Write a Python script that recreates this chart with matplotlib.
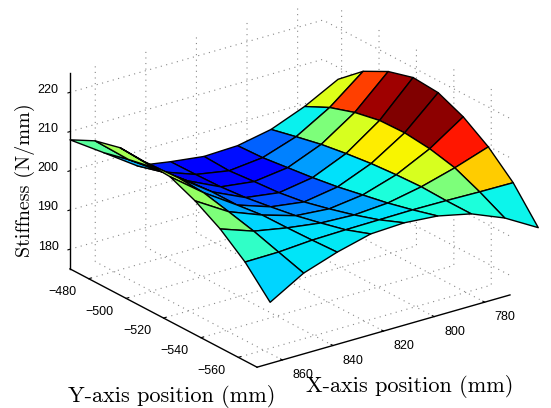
import numpy as np
import matplotlib
matplotlib.use("Agg")
import matplotlib.pyplot as plt
from matplotlib import cm
from matplotlib.transforms import ScaledTranslation
from mpl_toolkits.mplot3d import proj3d

x_pos = [870, 856.75, 843.5, 830.25, 817, 803.75, 790.5, 777.25, 764]
y_pos = [-577, -563.6, -550.3, -536.9, -523.5, -510.1, -496.8, -483.4, -470]
stiffness = [
    [193.3, 200.2, 205.3, 209.1, 211.9, 212.3, 212.6, 211.0, 207.9],
    [198.3, 200.3, 202.3, 203.9, 205.4, 205.8, 205.1, 203.8, 202.2],
    [201.2, 200.9, 200.7, 200.6, 199.8, 199.8, 199.3, 198.2, 196.4],
    [203.4, 201.1, 199.5, 198.0, 196.9, 195.9, 195.3, 195.1, 195.0],
    [203.8, 201.2, 199.1, 197.3, 195.7, 194.7, 194.2, 193.6, 193.9],
    [203.1, 201.3, 199.7, 198.4, 197.1, 196.1, 195.3, 194.5, 194.2],
    [201.2, 201.2, 201.4, 201.1, 200.6, 199.8, 198.8, 197.4, 195.9],
    [197.7, 201.0, 203.8, 205.3, 206.0, 205.8, 204.5, 202.4, 199.3],
    [192.8, 200.9, 206.7, 211.0, 213.8, 214.3, 212.5, 209.2, 203.8],
]
cell_colour = [
    [.335, .41, .50, .53, .57, .61, .55, .46],
    [.35, .345, .335, .29, .26, .20, .28, .30],
    [.355, .345, .31, .28, .22, .17, .10, .15],
    [.36, .335, .29, .26, .20, .15, .11, .12],
    [.365, .345, .29, .26, .21, .16, .125, .14],
    [.385, .385, .385, .365, .345, .28, .25, .22],
    [.385, .50, .61, .65, .66, .61, .50, .36],
    [.365, .695, .885, .985, 1.0, .97, .84, .62],
]
x_ticks = [780, 800, 820, 840, 860]
y_ticks = [-560, -540, -520, -500, -480]
z_ticks = [180, 190, 200, 210, 220]
x_limits = (870, 770)
y_limits = (-570, -470)
z_limits = (175, 225)

W, H = 551, 408
plt.rcParams['font.family'] = 'Liberation Sans'
plt.rcParams['font.size'] = 9
fig = plt.figure(figsize=(W / 100, H / 100), dpi=100)
ax = fig.add_axes([0.1, 0.1, 0.8, 0.8], projection='3d', proj_type='ortho')
ax.view_init(elev=22.8, azim=-126.4)
ax.set_box_aspect((314, 315, 212.6))
ax.set_xlim(*x_limits, view_margin=0)
ax.set_ylim(*y_limits, view_margin=0)
ax.set_zlim(*z_limits, view_margin=0)

X, Y = np.meshgrid(x_pos, y_pos, indexing='ij')
Z = np.array(stiffness)
faces = cm.jet(np.array(cell_colour))
surf = ax.plot_surface(X, Y, Z, rstride=1, cstride=1, facecolors=faces, shade=False,
                       edgecolor='black', linewidth=1.0, antialiased=True)
surf.set_clip_on(False)

ax.set_xticks(x_ticks)
ax.set_yticks(y_ticks)
ax.set_zticks(z_ticks)
ax.tick_params(axis='both', pad=3, labelsize=9)
ax.tick_params(axis='z', pad=3, labelsize=9)
for a in (ax.xaxis, ax.yaxis, ax.zaxis):
    a.set_pane_color((1, 1, 1, 0))
    a.pane.set_edgecolor((1, 1, 1, 0))
    a.line.set_color('black')
    a.line.set_linewidth(1.0)
    a._axinfo['grid'].update(color='#888888', linewidth=0.8, linestyle=(0, (1, 4)))
    a._axinfo['tick'].update(inward_factor=0.0, outward_factor=0.12)
ax.zaxis._axinfo['tick'].update(inward_factor=0.1, outward_factor=0.0)


# nudge tick labels (pixels: right, up) onto the reference positions;
# Axis3D resets transforms in get_major_ticks, so wrap it
def nudge(axis, dx, dy):
    original = axis.get_major_ticks
    offset = ax.transData + ScaledTranslation(dx / 100, dy / 100, fig.dpi_scale_trans)

    def patched(numticks=None):
        ticks = original(numticks)
        for t in ticks:
            t.label1.set_transform(offset)
        return ticks
    axis.get_major_ticks = patched


nudge(ax.xaxis, 9, 9)
nudge(ax.yaxis, -11, 9)
nudge(ax.zaxis, 5, 7)

# fit the box to the reference corners (pixel coords from top-left)
targets = {(870, -570, 175): (257, 367), (870, -470, 175): (70, 269), (770, -570, 175): (510, 295)}
for _ in range(3):
    fig.canvas.draw()
    M = ax.get_proj()
    pts = []
    for (a, b, c) in targets:
        xs, ys, _z = proj3d.proj_transform(a, b, c, M)
        pts.append(ax.transData.transform((xs, ys)))
    pts = np.array(pts)
    tg = np.array(list(targets.values()), float)
    tg[:, 1] = H - tg[:, 1]
    span = np.linalg.norm(pts[2] - pts[1])
    f = np.linalg.norm(tg[2] - tg[1]) / span
    pos = ax.get_position()
    cx, cy = (pos.x0 + pos.x1) / 2 * W, (pos.y0 + pos.y1) / 2 * H
    new_c = tg.mean(0) + (np.array([cx, cy]) - pts.mean(0)) * f
    w, h = pos.width * W * f, pos.height * H * f
    ax.set_position([(new_c[0] - w / 2) / W, (new_c[1] - h / 2) / H, w / W, h / H])

lab = dict(family='cmr10', color='black')
fig.text(172 / W, 1 - 396 / H, 'Y-axis position (mm)', ha='center', va='center', fontsize=16, **lab)
fig.text(410 / W, 1 - 387 / H, 'X-axis position (mm)', ha='center', va='center', fontsize=16, **lab)
fig.text(25 / W, 1 - 180 / H, 'Stiffness (N/mm)', rotation=90, ha='center', va='center', fontsize=14.5, **lab)
fig.savefig('out.png', dpi=100)
